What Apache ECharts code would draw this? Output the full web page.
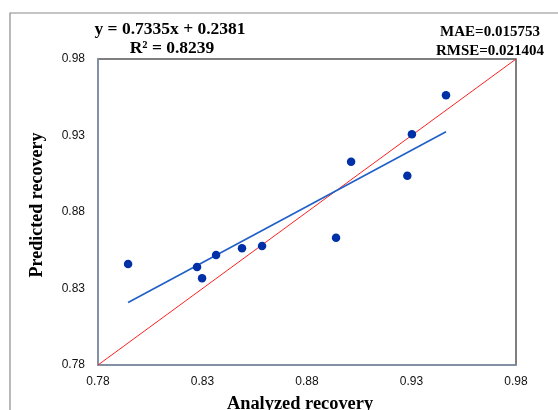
<!DOCTYPE html>
<html><head><meta charset="utf-8">
<script src="https://cdn.jsdelivr.net/npm/echarts@6/dist/echarts.min.js"></script>
<style>html,body{margin:0;padding:0;background:#fff}#c{width:558px;height:410px}</style>
</head><body><div id="c"></div>
<script>
const analyzed = [0.7944, 0.8274, 0.8298, 0.8365, 0.8489, 0.8585, 0.8939, 0.9011, 0.9280, 0.9302, 0.9465];
const predicted = [0.8460, 0.8440, 0.8367, 0.8519, 0.8563, 0.8578, 0.8632, 0.9129, 0.9037, 0.9308, 0.9563];
const trendX = [0.7944, 0.9465];
const trendY = [0.8208, 0.9324];
const idealX = [0.78, 0.98];
const idealY = [0.78, 0.98];
const ticks = [0.78, 0.83, 0.88, 0.93, 0.98];
const eqText = ['y = 0.7335x + 0.2381', 'R² = 0.8239'];
const errText = ['MAE=0.015753', 'RMSE=0.021404'];
const xTitle = 'Analyzed recovery';
const yTitle = 'Predicted recovery';

const chart = echarts.init(document.getElementById('c'));
const serif = '"Liberation Serif","Times New Roman",serif';
const lbl = {color:'#111', fontFamily:'"Liberation Sans",Arial,sans-serif', fontSize:12};
chart.setOption({
  animation:false,
  grid:{left:98, top:59, width:418, height:306, show:true, borderColor:'#555', borderWidth:1.5, backgroundColor:'#fff'},
  xAxis:{type:'value', min:0.78, max:0.98, interval:0.05, splitLine:{show:false},
    axisLine:{lineStyle:{color:'#8497b4', width:1.5}}, axisTick:{show:false},
    axisLabel:Object.assign({margin:11, formatter:v=>v.toFixed(2)}, lbl)},
  yAxis:{type:'value', min:0.78, max:0.98, interval:0.05, splitLine:{show:false},
    axisLine:{show:true, lineStyle:{color:'#8497b4', width:1.5}}, axisTick:{show:false},
    axisLabel:Object.assign({margin:13, formatter:v=>v.toFixed(2)}, lbl)},
  series:[
    {type:'line', data:idealX.map((x,i)=>[x,idealY[i]]), symbol:'none', lineStyle:{color:'#ff2020', width:1}, z:2},
    {type:'line', data:trendX.map((x,i)=>[x,trendY[i]]), symbol:'none', lineStyle:{color:'#1f5fc8', width:1.6}, z:3},
    {type:'scatter', data:analyzed.map((x,i)=>[x,predicted[i]]), symbolSize:8.5, itemStyle:{color:'#0030a8', opacity:1}, z:4}
  ],
  graphic:[
    {type:'rect', shape:{x:10, y:13, width:600, height:500}, style:{fill:'none', stroke:'#8a8a8a', lineWidth:1.2}, z:-10},
    {type:'text', x:170, y:29, style:{text:eqText[0], font:'bold 17.5px '+serif, fill:'#000', align:'center', verticalAlign:'middle'}},
    {type:'text', x:172, y:48, style:{text:eqText[1], font:'bold 17.5px '+serif, fill:'#000', align:'center', verticalAlign:'middle'}},
    {type:'text', x:490, y:32, style:{text:errText[0], font:'bold 15px '+serif, fill:'#000', align:'center', verticalAlign:'middle'}},
    {type:'text', x:490, y:51, style:{text:errText[1], font:'bold 15px '+serif, fill:'#000', align:'center', verticalAlign:'middle'}},
    {type:'text', x:300, y:404, style:{text:xTitle, font:'bold 18.4px '+serif, fill:'#000', align:'center', verticalAlign:'middle'}},
    {type:'text', x:37, y:205, rotation:Math.PI/2, style:{text:yTitle, font:'bold 18px '+serif, fill:'#000', align:'center', verticalAlign:'middle'}}
  ]
});
</script></body></html>
